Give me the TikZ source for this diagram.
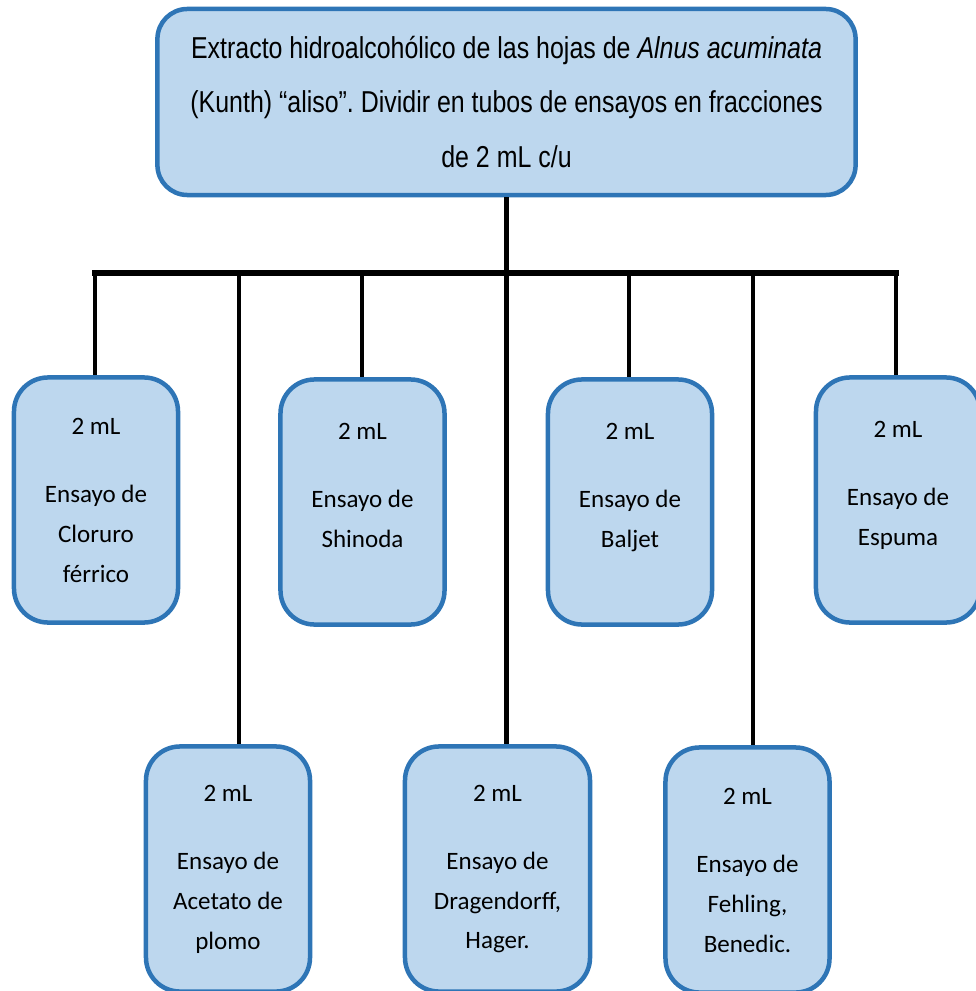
\documentclass[tikz,border=0pt]{standalone}
\usepackage{fontspec}
\setmainfont{Carlito}
\newfontfamily\narrowfont[FakeStretch=0.825]{Liberation Sans}
\definecolor{relleno}{HTML}{BDD7EE}
\definecolor{borde}{HTML}{2E75B6}
\frenchspacing
\tikzset{
  ensayo/.style={draw=borde, fill=relleno, line width=3.2pt, rounded corners=0.85cm,
    minimum width=4.1cm, minimum height=6.125cm, align=center, inner sep=0pt,
    font=\fontsize{17.8}{28.4}\selectfont},
  extracto/.style={draw=borde, fill=relleno, line width=3.2pt, rounded corners=0.75cm,
    minimum width=17.45cm, minimum height=4.65cm, align=center,
    font=\narrowfont\fontsize{21.5}{38.7}\selectfont},
  linea/.style={line width=3pt},
}

\begin{document}
\begin{tikzpicture}[x=0.025cm, y=-0.025cm]
  \useasboundingbox (0,0) rectangle (975,991);
  \node[extracto] (extracto) at (506.5,102) {Extracto hidroalcohólico de las hojas de \textit{Alnus acuminata}\\(Kunth) “aliso”. Dividir en tubos de ensayos en fracciones\\de 2 mL c/u};
  % fila de arriba
  \node[ensayo] (cloruro) at (96,500) {2 mL\\[20pt]Ensayo de\\Cloruro\\férrico};
  \node[ensayo] (shinoda) at (362.5,502) {2 mL\\[20pt]Ensayo de\\Shinoda\\[-5pt]\mbox{}};
  \node[ensayo] (baljet) at (630,502) {2 mL\\[20pt]Ensayo de\\Baljet\\[-5pt]\mbox{}};
  \node[ensayo] (espuma) at (898,500) {2 mL\\[20pt]Ensayo de\\Espuma\\[-5pt]\mbox{}};
  % fila de abajo
  \node[ensayo] (acetato) at (228,869) {2 mL\\[20pt]Ensayo de\\Acetato de\\plomo};
  \node[ensayo, minimum width=4.625cm] (dragendorff) at (497.5,869) {2 mL\\[20pt]Ensayo de\\Dragendorff,\\Hager.};
  \node[ensayo] (fehling) at (747.5,870) {2 mL\\[20pt]Ensayo de\\Fehling,\\Benedic.};
  % lineas
  \coordinate (b1) at (95,273);
  \coordinate (b2) at (239,273);
  \coordinate (b3) at (362,273);
  \coordinate (b4) at (506.5,273);
  \coordinate (b5) at (629,273);
  \coordinate (b6) at (753,273);
  \coordinate (b7) at (896,273);
  \draw[linea, line width=4pt, line cap=rect] (b1) -- (b7);
  \draw[linea] (extracto.south) -- (b4);
  \draw[linea] (b1) -- (b1 |- cloruro.north);
  \draw[linea] (b2) -- (b2 |- acetato.north);
  \draw[linea] (b3) -- (b3 |- shinoda.north);
  \draw[linea] (b4) -- (b4 |- dragendorff.north);
  \draw[linea] (b5) -- (b5 |- baljet.north);
  \draw[linea] (b6) -- (b6 |- fehling.north);
  \draw[linea] (b7) -- (b7 |- espuma.north);
\end{tikzpicture}
\end{document}
